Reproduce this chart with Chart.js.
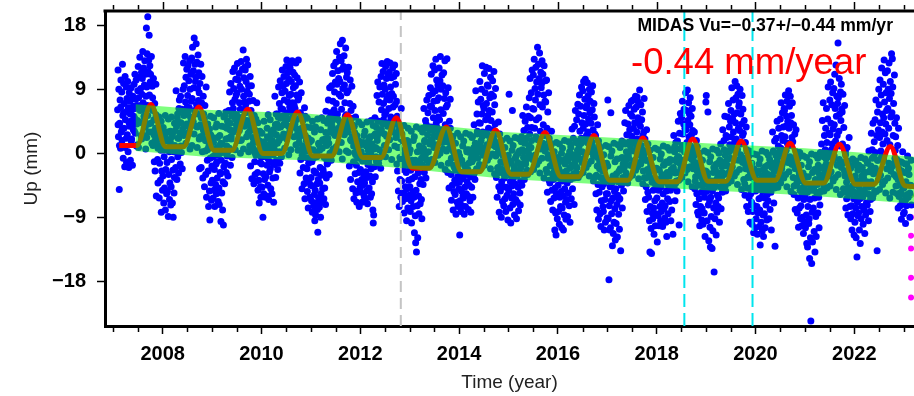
<!DOCTYPE html>
<html>
<head>
<meta charset="utf-8">
<script src="https://cdn.jsdelivr.net/npm/chart.js@4.4.0/dist/chart.umd.min.js"></script>
<style>
  body { margin: 0; background: #fff; }
</style>
</head>
<body>
<canvas id="upChart" width="914" height="396"></canvas>
<script>
// daily Up residuals, one string per month (Jan..Dec), values in mm
// first the spread of each season, then the points lying in the trend band
var up2007 = ["",
  "6.2 11.8 2.4 9.1 -5.0 4.3 7.6 0.8 10.4 3.1",
  "8.7 1.9 12.6 5.4 -0.6 9.9 3.6 7.1 -1.8 10.9 4.8",
  "5.9 9.4 -1.2 7.8 2.7 10.2 0.3 6.5 -1.9 8.6 3.9",
  "7.4 -0.9 4.6 9.3 2.1 6.2 -1.6 8.1 3.4 5.3",
  "9.8 5.1 11.2 2.9 7.7 10.4 4.2 6.8 1.3 8.9",
  "12.3 7.9 4.5 10.8 13.6 6.1 9.2 2.6 11.5 8.4",
  "10.6 14.4 7.2 12.1 5.3 9.7 13.1 3.8 11.2 8.1",
  "17.7 9.4 14.1 6.8 19.3 11.6 4.2 13.2 16.7 8.3 12.4 10.1",
  "11.2 6.4 13.7 3.1 9.5 7.9 1.2 10.6 4.8 -1.1",
  "7.1 -2.4 3.6 9.8 -5.9 1.4 5.2 -0.8 -4.1 2.5",
  "2.1 -6.2 -1.3 4.6 -3.7 0.5 -8.2 -2.4 3.2 -5.1"];
var up2008 = [
  "-3.1 1.8 -6.9 -0.4 -4.8 2.6 -7.9 -2.2 0.6 -5.6",
  "-1.2 -5.3 3.1 -8.8 -2.9 0.9 -6.4 -4.1 1.7 -7.2",
  "-4.6 -0.8 2.4 -6.9 -2.3 -8.9 0.3 -5.5 -3.3 1.2",
  "3.3 -1.9 8.9 0.6 -3.6 5.1 -0.4 2.2 -2.7 6.4",
  "7.6 2.9 -1.4 8.1 4.4 0.2 6.2 -2.1 3.5 9.1",
  "12.8 5.4 9.6 2.8 13.7 7.3 10.8 4.1 11.9 6.6",
  "8.2 12.4 3.9 10.3 6.5 13.1 9.1 5.2 11.2 7.4",
  "13.5 7.8 15.0 4.6 11.7 9.3 16.3 6.1 12.6 10.2",
  "10.8 15.5 6.9 12.9 3.8 9.2 13.9 7.5 11.4 8.6 -2.1",
  "9.9 4.1 12.6 -1.9 7.2 10.9 2.5 -3.4 8.1 5.6",
  "3.1 -4.6 6.8 0.4 -2.9 9.4 -6.1 1.8 -0.9 4.2",
  "-2.4 -7.4 1.1 -5.2 -9.3 -0.6 2.7 -4.1 -6.5 -1.7"];
var up2009 = [
  "-3.7 -0.4 -6.2 1.6 -5.1 -2.2 -7.4 0.7 -4.3 -1.4",
  "-5.6 -1.1 -3.4 2.3 -6.7 -0.2 -4.8 -7.1 1.2 -2.6",
  "-2.8 -9.5 -0.9 -5.5 1.4 -7.9 -3.9 -10.0 -1.8 0.4",
  "-4.2 3.8 -1.3 5.9 -2.6 1.1 -0.3 4.6 -3.1 2.2",
  "6.1 0.8 8.7 3.4 -1.6 9.9 2.1 5.3 -0.5 7.2",
  "11.6 6.4 9.2 3.3 12.1 7.7 4.9 10.5 8.3 5.5",
  "8.6 12.7 5.1 10.4 3.6 11.3 7.2 9.5 6.3 1.9",
  "13.0 9.1 6.2 11.9 4.4 14.6 8.1 10.7 7.3 12.2",
  "11.8 6.9 10.2 13.3 4.7 8.8 12.5 2.9 9.6 7.4",
  "8.4 3.2 10.9 -1.7 6.1 9.6 -3.5 4.8 0.9 7.5",
  "1.6 -4.2 5.4 -1.1 -2.9 3.3 -0.2 -3.8 7.2 2.3",
  "-2.6 -5.1 0.5 -3.7 -6.9 1.8 -1.2 -4.6 -6.1 -0.4"];
var up2010 = [
  "-1.4 -4.7 0.9 -8.9 -2.8 -5.6 1.7 -3.6 -0.3 -6.1",
  "-3.2 0.2 -5.9 -1.6 2.4 -4.4 -0.7 -6.4 1.3 -2.5",
  "0.6 -2.1 -4.9 3.1 -1.2 -5.6 1.9 -3.4 -0.1 -6.8",
  "2.8 -1.5 8.1 0.4 -3.3 5.6 -0.9 4.2 1.5 -2.2",
  "5.2 9.4 1.9 7.1 -1.3 10.3 3.8 6.4 -0.4 8.6",
  "11.8 6.3 9.5 4.1 10.9 7.6 5.4 8.8 2.7 12.3",
  "9.9 13.2 5.8 11.4 7.3 3.9 10.5 8.2 6.6 12.1",
  "12.7 8.4 10.2 5.9 13.1 7.2 11.5 9.3 4.3 6.8",
  "11.1 6.4 9.6 12.8 4.8 8.3 10.7 2.8 7.6 13.2",
  "7.9 2.3 10.1 -2.7 5.8 -0.8 8.6 3.6 -4.9 1.1",
  "4.7 -1.9 0.9 -4.2 6.5 -6.3 2.6 -0.5 -3.4 3.8",
  "-2.1 -5.3 0.4 -7.6 -1.3 -3.9 1.6 -6.1 -0.5 -4.4"];
var up2011 = [
  "-3.3 -6.6 -1.1 -8.2 -4.5 0.6 -7.3 -2.4 -5.7 -9.4",
  "-5.1 -8.6 -2.7 -6.9 -0.4 -4.2 -7.8 -11.0 -3.6 -6.2 1.3",
  "-7.5 -4.1 -1.9 -8.9 -5.6 -3.0 -6.8 0.8 -4.9 -2.2",
  "-2.6 -6.3 -0.5 -4.8 2.1 -7.1 6.0 -3.4 1.2 -1.4",
  "4.3 -1.2 7.6 1.5 -2.9 9.3 3.1 5.8 0.2 -0.9",
  "9.6 4.6 11.3 7.4 2.9 12.4 6.2 8.7 5.1 10.1",
  "12.9 7.1 14.4 9.8 5.6 11.7 3.6 10.6 8.4 13.6",
  "10.2 15.5 8.1 13.1 6.3 11.9 16.0 9.2 4.4 12.3",
  "13.8 9.7 7.2 12.1 14.9 5.5 10.8 8.6 11.4 3.1",
  "8.9 12.2 4.6 -1.7 7.1 10.4 -3.6 6.1 1.8 9.5",
  "2.4 -4.9 6.7 -1.1 -6.3 3.9 0.2 -2.8 5.2 -5.5",
  "-1.6 -6.8 0.7 -3.9 -5.2 1.9 -2.6 -7.4 -0.3 -4.7"];
var up2012 = [
  "-2.2 -5.4 0.3 -3.6 -6.8 -1.0 -4.4 1.6 -2.9 -6.0",
  "-4.1 -0.6 -6.4 -2.5 1.1 -5.2 -3.3 -7.0 -1.5 0.5",
  "-1.3 -4.8 2.2 -3.1 -6.1 0.1 -2.1 -5.6 1.4 -3.9",
  "-7.9 -9.7 -8.6 2.6 -1.8 5.1 -3.2 0.9 -0.4 3.7",
  "8.2 2.4 10.1 4.6 -1.3 7.3 0.6 9.4 3.3 -2.0",
  "10.9 6.2 12.7 8.4 4.2 11.6 7.1 9.7 2.8 5.5",
  "9.1 12.3 5.9 10.6 7.7 13.0 3.9 11.2 8.3 6.4",
  "11.5 7.6 12.8 9.4 5.2 10.7 8.5 3.6 12.1 6.6",
  "8.1 10.9 4.6 12.5 6.9 9.8 2.3 11.3 7.4 5.3",
  "-2.4 4.1 -5.2 0.9 -7.4 2.6 -3.6 -1.1 -6.1 6.4",
  "-3.8 -0.4 -6.7 1.8 -2.2 -5.5 -8.3 -1.5 0.6 -4.6",
  "-6.3 -2.6 -9.4 -4.9 -0.8 -7.6 1.3 -3.7 -5.8 -1.9"];
var up2013 = [
  "-4.6 -8.1 -2.3 -6.6 -9.7 -3.5 -0.9 -5.4 -7.4 -1.8",
  "-6.1 -11.1 -3.2 -8.7 -12.5 -5.1 -13.8 -2.0 -7.3 -11.8",
  "-2.7 -5.9 -8.4 -1.1 -4.2 -7.0 0.4 -3.6 -6.4 -9.1",
  "-1.5 3.6 -4.3 0.8 6.4 -2.6 1.9 -0.3 4.7 -3.4",
  "4.1 7.6 -0.9 2.7 5.8 0.3 8.2 -1.6 3.5 6.7",
  "9.3 3.8 11.2 6.6 1.9 8.5 12.4 5.1 7.4 2.6",
  "11.8 6.1 8.9 13.3 4.3 10.4 7.5 2.4 9.7 5.2",
  "7.9 12.1 4.8 10.3 13.7 6.2 9.1 3.4 11.1 1.6",
  "9.6 5.7 11.4 2.9 7.8 13.1 4.1 8.6 6.6 0.4",
  "13.4 6.9 -2.6 9.3 3.1 -4.8 4.6 -1.2 7.7 1.5",
  "-2.9 -6.5 0.8 -4.4 2.3 -7.9 -1.6 -5.3 -0.2 -3.7",
  "-5.7 -2.3 -8.5 -4.1 -0.5 -6.8 -3.2 -7.4 -1.4 -4.9"];
var up2014 = [
  "-4.0 -11.4 -6.6 -2.6 -8.1 -5.2 -0.9 -7.3 -3.5 -5.9",
  "-6.2 -3.1 -8.5 -4.7 -1.6 -7.4 -2.4 -5.6 0.6 -3.9",
  "-2.8 -5.9 -7.8 -1.3 -4.4 0.2 -6.6 -3.2 -8.2 -0.6",
  "-4.7 -1.1 2.4 -6.1 0.4 -2.9 4.1 -0.2 -3.6 1.5",
  "8.9 1.4 -2.1 5.6 3.2 -0.6 7.3 0.3 4.4 -1.5",
  "10.2 4.3 7.7 1.9 9.1 5.6 12.4 3.1 6.8 0.8",
  "6.4 11.3 2.7 8.6 4.8 12.2 7.1 1.3 9.7 5.4",
  "9.5 3.6 12.0 6.1 7.9 1.8 10.8 4.7 8.4 2.5",
  "5.9 10.3 3.4 8.1 11.6 1.2 6.9 4.2 9.2 -0.3",
  "-3.3 2.8 -6.1 0.1 -1.9 4.5 -4.6 -8.2 -2.6 1.4",
  "-5.2 -2.1 -8.9 -3.9 0.7 -6.7 -1.2 -4.6 -7.3 -2.9",
  "-3.4 -6.3 -0.8 -8.1 -4.7 -1.9 -5.8 -2.7 -9.3 -0.2"];
var up2015 = [
  "-5.1 8.4 -2.7 -7.6 -3.9 -9.7 -1.3 -6.2 -4.5 6.1",
  "-7.1 -3.4 -5.6 -1.8 -8.6 -4.2 -0.6 -6.4 -2.6 -9.1",
  "-3.1 -6.8 -1.2 -4.7 -8.0 -2.3 0.4 -5.5 -7.2 -3.8",
  "-1.9 2.4 -4.4 0.6 5.4 -2.8 -0.5 3.3 -3.6 1.5",
  "4.6 -1.4 2.1 6.6 0.4 -2.3 3.7 -0.6 5.3 1.2",
  "7.9 2.8 10.6 5.1 0.9 8.6 3.7 11.8 6.4 -0.4",
  "11.1 6.3 13.3 3.6 9.2 7.6 12.2 4.8 10.1 2.2",
  "15.0 8.4 12.6 5.1 10.6 14.2 6.9 3.2 11.5 9.3",
  "9.9 13.1 6.6 11.2 4.1 8.3 12.4 2.6 7.4 10.3",
  "7.3 -2.2 10.4 3.6 -5.4 5.9 -0.6 8.6 -3.7 1.7",
  "-4.1 0.9 -6.7 -1.6 3.2 -5.1 -2.8 -7.9 -0.4 -3.6",
  "-6.2 -2.4 -10.7 -4.8 -8.3 -11.4 -5.6 -3.3 -9.1 -0.5"];
var up2016 = [
  "-4.4 -8.1 -2.1 -9.9 -6.1 -3.2 -7.4 -0.9 -5.3 -10.4",
  "-7.6 -3.8 -5.9 -10.7 -2.6 -8.6 -4.9 -1.4 -6.8 -9.2",
  "-2.4 -6.4 -4.1 -8.8 -1.0 -5.5 -3.1 -7.3 0.3 -9.6",
  "-3.6 0.9 -6.3 -1.6 3.5 -4.9 -0.5 2.2 -2.8 -7.1",
  "3.9 -0.9 6.1 1.6 -2.6 4.8 -1.9 0.5 7.0 -3.3",
  "5.6 1.1 8.3 3.2 -0.8 6.7 2.2 9.4 4.4 0.3",
  "8.9 3.6 10.2 5.4 1.9 7.7 10.5 4.2 6.5 2.6",
  "6.8 10.0 3.1 8.2 4.9 1.4 9.1 5.8 7.4 2.3",
  "4.3 8.7 1.7 6.2 9.6 3.4 -0.3 7.1 5.2 2.8",
  "-3.2 2.6 -5.6 0.4 -7.9 -1.7 4.1 -4.3 -9.2 1.2",
  "-5.4 -1.1 -8.4 -3.3 -10.2 -6.6 -0.3 -4.6 -2.4 -7.4",
  "-8.1 -4.2 -10.7 -2.1 -6.4 -9.6 -3.6 -5.6 -1.3 -9.0"];
var up2017 = [
  "-5.6 7.6 -9.1 -3.7 -17.7 -7.3 -10.7 -4.6 -10.4 5.8 -6.6",
  "-8.4 -4.1 -12.9 -6.2 -11.2 -3.4 -9.6 -5.3 -7.7 -12.1",
  "-4.9 -9.8 -2.8 -7.1 -11.7 -5.8 -3.9 -8.5 -6.4 -10.6",
  "-6.3 -2.1 -13.6 -0.6 -4.4 1.8 -7.6 -3.3 -1.4 -5.2",
  "1.6 -3.9 4.4 -1.1 6.1 -2.7 0.3 2.7 -0.4 -4.1",
  "4.2 -0.5 6.8 1.7 3.4 -1.6 5.6 0.6 7.4 2.5",
  "5.3 2.2 7.6 3.6 0.4 6.3 4.4 -0.9 8.1 1.5",
  "6.6 3.1 8.0 2.1 5.1 7.3 0.8 4.2 9.0 -1.2",
  "3.9 6.9 1.2 4.8 -0.6 5.9 2.6 -2.4 3.1 7.8",
  "-3.3 2.1 -6.4 -0.9 -4.6 3.4 -8.1 -2.2 -5.4 0.6",
  "-6.1 -2.9 -9.4 -13.8 -7.4 -1.4 -10.5 -14.0 -3.6 -8.3",
  "-9.1 -5.1 -7.6 -11.3 -3.4 -6.6 -10.1 -4.4 -8.4 -2.2"];
var up2018 = [
  "-6.2 -12.4 -3.6 -8.7 -5.1 -10.1 -2.3 -7.4 -4.3 -9.4",
  "-4.6 -8.1 -2.9 -6.9 -10.2 -5.6 -1.6 -7.7 -3.8 -9.0",
  "-7.3 -3.4 -9.6 -5.2 -11.6 -2.6 -6.3 -8.4 -4.4 -1.2",
  "-3.1 -6.7 -0.8 -5.1 -9.4 -2.2 -7.9 0.6 -4.3 -11.3",
  "-1.9 2.6 -4.6 0.3 -6.6 -2.7 1.6 -3.8 -0.7 -5.2",
  "1.8 -2.6 4.6 -0.4 -10.0 2.9 -1.3 5.7 0.7 -3.4",
  "5.1 1.2 7.4 2.8 -0.9 4.2 6.3 0.3 3.6 -1.8",
  "8.6 3.4 6.1 1.6 9.0 4.7 0.2 7.2 2.4 5.6",
  "4.1 7.9 1.1 5.3 2.7 -0.8 6.4 3.3 -2.1 0.4",
  "-1.4 3.1 -4.9 0.6 -3.2 -7.1 1.9 -5.6 -2.4 -8.2",
  "-4.4 -8.6 -1.9 -6.3 -10.1 -3.1 -7.4 -0.8 -5.4 -9.3",
  "-7.7 -3.6 -9.9 -5.1 -2.4 -8.3 -6.1 -11.6 -4.2 7.3"];
var up2019 = [
  "8.2 -5.3 -9.4 -3.1 5.9 -7.2 -12.2 -4.4 -6.6 -10.3",
  "-13.1 -6.1 -8.8 -3.8 -13.3 -5.2 -10.8 -2.6 -7.6 -16.6",
  "-4.7 -9.1 -2.2 -6.9 -11.4 -3.6 -8.2 -5.8 -1.3 -7.4",
  "-6.2 -2.7 -9.6 -0.9 -4.6 1.4 -7.7 -3.4 -1.8 -5.4",
  "3.4 -1.2 -4.1 1.9 -2.9 5.3 -0.2 -5.2 2.6 -1.7",
  "2.3 -1.6 5.2 0.4 7.1 -2.6 3.8 1.3 -0.6 4.6",
  "6.1 2.4 9.3 0.8 4.9 7.6 3.1 -0.9 5.6 1.7",
  "10.2 4.4 7.9 2.1 9.6 5.8 0.6 8.4 3.6 6.7",
  "7.2 3.3 9.1 1.4 5.6 -0.4 4.2 8.2 2.6 6.3",
  "2.9 -3.6 4.7 -0.7 -5.8 1.6 -2.1 3.8 -7.4 0.3",
  "-4.8 -1.1 -8.1 -3.2 -6.2 0.4 -9.6 -2.4 -5.6 -7.2",
  "-6.8 -9.9 -3.4 -8.1 -5.2 -11.1 -2.1 -7.3 -4.4 -10.4"];
var up2020 = [
  "-5.2 -9.1 -3.6 -7.4 -11.3 -4.6 -8.3 -2.4 -6.3 -10.2",
  "-7.9 -12.8 -4.2 -9.6 -6.1 -3.1 -10.8 -5.3 -8.6 -11.6",
  "-3.8 -8.4 -6.2 -10.4 -2.6 -7.2 -4.9 -9.3 -5.7 -1.6",
  "-6.6 -2.9 -9.1 -4.3 -0.8 -7.8 -3.6 -5.4 -10.7 -1.9",
  "-1.3 3.1 -4.2 0.4 -6.9 -2.4 1.8 -13.0 -3.4 -0.2",
  "2.2 -2.1 4.6 -0.6 -4.7 1.1 3.6 -3.3 0.3 -1.4",
  "4.9 0.8 7.2 2.6 -1.6 5.8 1.9 3.8 -0.4 6.4",
  "6.1 2.4 8.3 3.9 0.5 5.3 7.4 1.5 4.6 -0.8",
  "8.9 3.6 6.7 1.2 8.1 4.4 -1.3 5.4 2.3 7.2",
  "1.7 -3.3 4.1 -5.7 -0.6 2.8 -7.8 -2.1 3.4 -4.4",
  "-4.1 -8.3 -1.6 -6.2 -10.3 -3.2 -7.6 0.2 -5.1 -9.1",
  "-7.3 -3.8 -10.1 -5.6 -8.9 -2.7 -11.2 -6.4 -4.6 -9.6"];
var up2021 = [
  "-6.1 -10.4 -4.2 -8.6 -12.6 -5.3 -13.1 -7.4 -3.2 -9.8",
  "-9.1 -14.7 -6.4 -11.8 -23.5 -5.1 -15.4 -8.2 -12.4 -4.3",
  "-7.6 -4.7 -10.9 -6.2 -13.8 -3.6 -8.8 -11.6 -5.4 -2.4",
  "-4.3 -8.3 -1.6 -6.1 -10.4 -2.9 -7.2 0.2 -5.2 -3.7",
  "1.4 -3.6 4.7 -1.9 7.2 -0.4 -4.6 2.6 -2.6 0.6",
  "3.6 -0.7 6.4 1.6 -2.9 4.9 9.4 0.2 2.9 -1.6",
  "7.6 2.7 10.1 4.3 0.6 6.9 1.4 8.6 3.5 -0.9",
  "9.2 4.1 11.2 6.4 1.8 12.5 5.3 8.1 2.6 7.1",
  "15.6 7.9 3.2 10.6 5.6 1.1 8.7 4.7 9.8 6.3",
  "5.9 1.4 8.4 -1.2 3.7 -5.4 6.8 -3.1 0.3 -7.6",
  "-2.4 -6.3 0.9 -4.8 -8.6 -1.1 -5.7 2.3 -3.5 -7.4",
  "-5.6 -9.1 -3.4 -7.3 -10.7 -4.5 -8.4 -1.6 -6.3 -11.4"];
var up2022 = [
  "-5.4 -9.6 -3.1 -7.6 -11.8 -4.4 -14.5 -6.8 -8.7 -2.2",
  "-8.3 -4.6 -10.7 -6.3 -12.6 -3.7 -9.1 -5.6 -7.4 -1.9",
  "-6.1 -9.9 -3.3 -7.9 -5.1 -11.2 -2.6 -8.6 -4.2 -6.9",
  "-3.9 -7.2 -1.3 -5.6 -9.4 0.4 -4.6 -2.4 -8.1 -6.4",
  "-1.7 2.9 -4.4 0.6 -6.2 4.3 -2.8 -0.4 1.7 -5.2",
  "4.8 0.2 7.6 -2.4 2.6 -13.6 5.9 -0.9 3.4 9.1",
  "6.9 2.3 10.4 4.4 0.4 8.3 12.1 3.1 5.6 1.4",
  "9.8 5.1 13.2 7.3 2.8 11.4 4.2 8.6 6.1 1.9",
  "11.7 6.4 9.1 3.6 12.8 7.8 1.3 10.2 5.2 8.5",
  "14.1 5.8 13.4 9.4 2.6 7.1 -1.3 11.1 4.3 0.5",
  "2.4 -3.2 5.1 -0.8 -5.6 1.2 -7.6 3.6 -2.1 -4.4",
  "-3.6 -7.3 -1.1 -5.4 -9.2 -2.4 -6.6 0.3 -4.6 -8.4"];
var up2023 = [
  "-4.8 -8.2 -2.6 -6.6 -9.8 -3.9 -7.3 -1.4 -5.7 -0.3",
  "-6.1 -2.9 -8.9 -4.4 -7.2"];

// points sitting inside the trend band
var mid2007 = ["",
  "4.1 1.2 6.6", "3.4 5.8 0.9", "2.2 6.1 4.4",
  "5.6 1.8 4.1 6.7", "3.2 6.4 1.1 4.7", "0.9 4.4 6.8 2.1",
  "6.2 2.6 4.9 0.7", "2.3 5.4 3.1 6.6", "4.3 1.5 6.1 2.7",
  "1.9 5.5 3.3 0.8", "5.2 2.2 4.6 1.1"];
var mid2008 = [
  "3.7 0.6 5.4 2.1", "1.8 4.9 0.3 3.2", "5.2 2.7 0.9 4.3",
  "0.4 3.9 5.6 2.2", "4.4 1.1 6.3 2.9", "2.6 5.5 1.5 4.2",
  "5.9 3.1 0.7 4.6", "1.2 4.5 2.8 6.0", "3.9 0.9 5.6 2.1",
  "2.4 5.1 0.3 3.4", "4.9 1.9 3.8 0.6", "0.8 3.5 5.3 2.0"];
var mid2009 = [
  "2.3 5.1 -0.2 3.8", "4.2 0.9 5.7 2.6", "1.5 3.9 0.2 5.2",
  "5.4 2.1 3.6 0.4", "0.8 4.3 2.5 5.8", "3.1 5.6 0.6 4.1",
  "4.7 1.9 3.3 0.1", "2.0 5.2 0.7 3.9", "5.8 2.4 4.2 0.3",
  "1.1 3.7 5.4 2.3", "3.6 0.2 4.9 1.8", "4.4 1.6 3.2 -0.3"];
var mid2010 = [
  "2.9 -0.4 4.6 1.3", "0.9 3.6 5.5 2.2", "4.8 1.9 0.1 3.4",
  "1.2 4.1 2.7 5.6", "3.7 0.3 5.0 2.3", "5.3 2.8 0.8 4.6",
  "2.1 4.9 -0.1 3.2", "0.6 3.7 5.2 2.4", "4.2 1.3 3.5 0.5",
  "1.6 5.1 2.6 -0.2", "3.3 0.4 5.3 1.9", "5.0 2.2 0.7 3.7"];
var mid2011 = [
  "1.9 4.6 -0.6 3.1", "3.8 0.2 4.9 1.5", "0.5 3.4 5.1 2.0",
  "4.7 1.7 3.0 -0.9", "2.2 5.0 0.1 3.6", "3.9 0.7 5.4 2.6",
  "1.0 3.3 4.8 0.3", "4.4 1.6 -0.7 3.5", "2.7 5.3 0.4 4.0",
  "0.2 3.8 2.0 5.0", "4.1 1.1 3.0 -0.1", "2.6 -0.6 4.5 1.7"];
var mid2012 = [
  "1.3 4.1 -0.9 2.6", "3.2 -0.3 4.5 1.7", "-0.7 2.4 4.7 0.9",
  "4.0 0.7 2.8 -1.0", "1.9 4.6 -0.6 3.0", "3.4 0.1 4.8 1.2",
  "-0.4 2.5 4.3 0.6", "2.0 4.7 -0.8 3.1", "4.4 1.1 2.9 -1.4",
  "0.9 3.3 -0.5 2.1", "2.8 -0.2 4.0 0.4", "-0.9 1.9 3.6 0.1"];
var mid2013 = [
  "0.6 3.2 -1.7 1.9", "2.4 -0.9 3.8 0.3", "-1.4 1.1 3.5 -0.6",
  "3.1 -0.1 1.7 -1.9", "0.2 3.6 -1.5 1.4", "2.0 -0.8 3.3 0.9",
  "-1.2 1.3 3.7 -0.2", "3.0 0.1 -1.6 2.1", "0.7 2.8 -2.2 1.7",
  "2.3 -1.3 0.8 3.6", "-0.6 2.5 0.3 -1.9", "1.5 -1.6 2.9 0.2"];
var mid2014 = [
  "-0.3 2.4 -2.6 1.1", "1.8 -1.7 2.9 0.3", "-2.2 0.6 2.7 -1.0",
  "2.3 -0.8 0.9 -2.5", "-0.5 2.8 -2.3 0.7", "1.4 -1.9 2.5 -0.2",
  "-1.6 0.4 3.0 -0.9", "2.6 -0.4 -2.1 1.3", "0.0 2.1 -2.8 1.0",
  "1.6 -2.0 0.5 2.8", "-1.1 1.9 -0.2 -2.6", "0.9 -2.3 2.2 -0.6"];
var mid2015 = [
  "-0.9 1.8 -3.1 0.5", "1.2 -2.3 2.3 -0.3", "-2.8 0.1 2.1 -1.6",
  "1.7 -1.4 0.3 -3.0", "-1.1 2.2 -2.9 0.1", "0.8 -2.5 1.9 -0.8",
  "-2.2 -0.2 2.4 -1.5", "2.0 -1.0 -2.7 0.7", "-0.6 1.5 -3.4 0.4",
  "1.0 -2.6 -0.1 2.2", "-1.7 1.3 -0.8 -3.2", "0.3 -2.9 1.6 -1.2"];
var mid2016 = [
  "-1.3 1.4 -3.5 0.1", "0.8 -2.7 1.9 -0.7", "-3.2 -0.3 1.7 -2.0",
  "1.3 -1.8 -0.1 -3.4", "-1.5 1.8 -3.3 -0.3", "0.4 -2.9 1.5 -1.2",
  "-2.6 -0.6 2.0 -1.9", "1.6 -1.4 -3.1 0.3", "-1.0 1.1 -3.8 0.0",
  "0.6 -3.0 -0.5 1.8", "-2.1 0.9 -1.2 -3.6", "-0.1 -3.3 1.2 -1.6"];
var mid2017 = [
  "-1.7 1.0 -3.9 -0.3", "0.4 -3.1 1.5 -1.1", "-3.6 -0.7 1.3 -2.4",
  "0.9 -2.2 -0.5 -3.8", "-1.9 1.4 -3.7 -0.7", "0.0 -3.3 1.1 -1.6",
  "-3.0 -1.0 1.6 -2.3", "1.2 -1.8 -3.5 -0.1", "-1.4 0.7 -4.2 -0.4",
  "0.2 -3.4 -0.9 1.4", "-2.5 0.5 -1.6 -4.0", "-0.5 -3.7 0.8 -2.0"];
var mid2018 = [
  "-2.1 0.6 -4.3 -0.7", "0.0 -3.5 1.1 -1.5", "-4.0 -1.1 0.9 -2.8",
  "0.5 -2.6 -0.9 -4.2", "-2.3 1.0 -4.1 -1.1", "-0.4 -3.7 0.7 -2.0",
  "-3.4 -1.4 1.2 -2.7", "0.8 -2.2 -3.9 -0.5", "-1.8 0.3 -4.6 -0.8",
  "-0.2 -3.8 -1.3 1.0", "-2.9 0.1 -2.0 -4.4", "-0.9 -4.1 0.4 -2.4"];
var mid2019 = [
  "-2.5 0.2 -4.7 -1.1", "-0.4 -3.9 0.7 -1.9", "-4.4 -1.5 0.5 -3.2",
  "0.1 -3.0 -1.3 -4.6", "-2.7 0.6 -4.5 -1.5", "-0.8 -4.1 0.3 -2.4",
  "-3.8 -1.8 0.8 -3.1", "0.4 -2.6 -4.3 -0.9", "-2.2 -0.1 -5.0 -1.2",
  "-0.6 -4.2 -1.7 0.6", "-3.3 -0.3 -2.4 -4.8", "-1.3 -4.5 0.0 -2.8"];
var mid2020 = [
  "-2.8 -0.1 -5.0 -1.4", "-0.7 -4.2 0.4 -2.2", "-4.7 -1.8 0.2 -3.5",
  "-0.2 -3.3 -1.6 -4.9", "-3.0 0.3 -4.8 -1.8", "-1.1 -4.4 0.0 -2.7",
  "-4.1 -2.1 0.5 -3.4", "0.1 -2.9 -4.6 -1.2", "-2.5 -0.4 -5.3 -1.5",
  "-0.9 -4.5 -2.0 0.3", "-3.6 -0.6 -2.7 -5.1", "-1.6 -4.8 -0.3 -3.1"];
var mid2021 = [
  "-3.2 -0.5 -5.4 -1.8", "-1.1 -4.6 0.0 -2.6", "-5.1 -2.2 -0.2 -3.9",
  "-0.6 -3.7 -2.0 -5.3", "-3.4 -0.1 -5.2 -2.2", "-1.5 -4.8 -0.4 -3.1",
  "-4.5 -2.5 0.1 -3.8", "-0.3 -3.3 -5.0 -1.6", "-2.9 -0.8 -5.7 -1.9",
  "-1.3 -4.9 -2.4 -0.1", "-4.0 -1.0 -3.1 -5.5", "-2.0 -5.2 -0.7 -3.5"];
var mid2022 = [
  "-3.7 -1.0 -5.9 -2.3", "-1.6 -5.1 -0.5 -3.1", "-5.6 -2.7 -0.7 -4.4",
  "-1.1 -4.2 -2.5 -5.8", "-3.9 -0.6 -5.7 -2.7", "-2.0 -5.3 -0.9 -3.6",
  "-5.0 -3.0 -0.4 -4.3", "-0.8 -3.8 -5.5 -2.1", "-3.4 -1.3 -6.2 -2.4",
  "-1.8 -5.4 -2.9 -0.6", "-4.5 -1.5 -3.6 -6.0", "-2.5 -5.7 -1.2 -4.0"];
var mid2023 = ["-4.1 -1.4 -6.3 -2.7", "-2.0 -5.5 -0.9"];

var obsYears = [2007, 2008, 2009, 2010, 2011, 2012, 2013, 2014, 2015, 2016, 2017, 2018, 2019, 2020, 2021, 2022, 2023];
var obsByYear = [up2007, up2008, up2009, up2010, up2011, up2012, up2013, up2014, up2015, up2016, up2017, up2018, up2019, up2020, up2021, up2022, up2023];
var midByYear = [mid2007, mid2008, mid2009, mid2010, mid2011, mid2012, mid2013, mid2014, mid2015, mid2016, mid2017, mid2018, mid2019, mid2020, mid2021, mid2022, mid2023];

// last epochs after the offset (magenta) and the grey one
var offsetYear = 2023.15;
var offsetUp = [-8.9, -11.5, -13.3, -17.4, -20.2];
var greyUp = [-5.8];

// seasonal + trend model, read at turning points
var modelYears = [2007.12, 2007.48, 2007.76, 2008.06, 2008.42, 2008.73, 2009.04, 2009.40, 2009.72, 2010.03, 2010.41, 2010.73,
  2011.04, 2011.42, 2011.74, 2012.05, 2012.42, 2012.73, 2013.05, 2013.40, 2013.74, 2014.05, 2014.42, 2014.74,
  2015.05, 2015.40, 2015.74, 2016.06, 2016.42, 2016.73, 2017.05, 2017.42, 2017.72, 2018.05, 2018.42, 2018.73,
  2019.04, 2019.40, 2019.71, 2020.03, 2020.40, 2020.70, 2021.02, 2021.38, 2021.70, 2022.02, 2022.40, 2022.73, 2023.03, 2023.21];
var modelUp = [1.2, 1.2, 6.95, 1.0, 1.0, 6.6, 0.5, 0.5, 6.3, 0.05, 0.05, 5.9,
  -0.3, -0.3, 5.5, -0.5, -0.5, 5.1, -2.0, -2.0, 3.8, -2.5, -2.5, 3.35,
  -2.85, -2.85, 3.0, -3.2, -3.2, 2.6, -3.7, -3.7, 2.25, -3.9, -3.9, 2.1,
  -3.85, -3.85, 1.8, -3.7, -3.7, 1.5, -4.1, -4.1, 1.35, -4.25, -4.25, 1.05, -4.5, -4.6];

// uncertainty band of the trend
var bandYears = [2007.45, 2008.86, 2010.9, 2012.88, 2014.9, 2016.93, 2019.0, 2021.0, 2023.21];
var bandTop = [7.0, 6.2, 5.7, 4.5, 3.1, 2.35, 1.5, 0.8, -0.4];
var bandBottom = [0.4, -0.4, -0.9, -2.0, -3.5, -4.3, -5.1, -5.8, -7.0];

// equipment / event dates
var antennaYears = [2012.82];
var eqYears = [2018.56, 2019.94];

var xTickYears = [2008, 2010, 2012, 2014, 2016, 2018, 2020, 2022];
var yTicks = [18, 9, 0, -9, -18];

var xMin = 2006.832, xMax = 2023.209, yMin = -24.2, yMax = 20.1;

var obs = [];
function addMonths(list) {
  list.forEach(function (months, k) {
    months.forEach(function (s, m) {
      if (!s) return;
      var vals = s.trim().split(/\s+/).map(Number);
      vals.forEach(function (v, i) {
        obs.push({ x: obsYears[k] + (m + (i + 0.5) / vals.length) / 12, y: v });
      });
    });
  });
}
addMonths(obsByYear);
addMonths(midByYear);

function pairs(xs, ys) {
  return xs.map(function (x, i) { return { x: x, y: ys[i] }; });
}
function vline(t) {
  return [{ x: t, y: yMin }, { x: t, y: yMax }];
}

Chart.defaults.font.family = "'Liberation Sans', Arial, Helvetica, sans-serif";
Chart.defaults.color = '#000';

var extras = {
  id: 'extras',
  afterDraw: function (chart) {
    var c = chart.ctx, a = chart.chartArea, xs = chart.scales.x;
    c.save();
    c.strokeStyle = '#000';
    // top frame line
    c.lineWidth = 3;
    c.beginPath();
    c.moveTo(a.left - 1.5, a.top);
    c.lineTo(a.right, a.top);
    c.stroke();
    // half-year ticks, top and bottom
    c.lineWidth = 1.5;
    for (var t = 2007; t <= 2023; t += 0.5) {
      var px = Math.round(xs.getPixelForValue(t)) + 0.5;
      var major = xTickYears.indexOf(t) >= 0;
      c.beginPath();
      c.moveTo(px, a.top - 1.5);
      c.lineTo(px, a.top - (major ? 9 : 6));
      if (!major) {
        c.moveTo(px, a.bottom + 1.5);
        c.lineTo(px, a.bottom + 6);
      }
      c.stroke();
    }
    // annotations
    c.fillStyle = '#000';
    c.font = "bold 17.6px 'Liberation Sans', Arial, sans-serif";
    c.textAlign = 'right';
    c.textBaseline = 'alphabetic';
    c.fillText('MIDAS Vu=\u22120.37+/\u22120.44 mm/yr', 893, 31);
    c.fillStyle = '#ff0000';
    c.font = "36.5px 'Liberation Sans', Arial, sans-serif";
    c.textAlign = 'left';
    c.fillText('-0.44 mm/year', 631, 74);
    c.restore();
  }
};

new Chart(document.getElementById('upChart'), {
  type: 'scatter',
  data: {
    datasets: [
      {
        type: 'line', data: pairs(bandYears, bandTop), fill: '+1',
        backgroundColor: 'rgba(0,255,0,0.5)', borderWidth: 0, pointRadius: 0, tension: 0, order: 0
      },
      {
        type: 'line', data: pairs(bandYears, bandBottom), fill: false,
        borderWidth: 0, pointRadius: 0, tension: 0, order: 0
      },
      {
        type: 'line', data: pairs(modelYears, modelUp), borderColor: '#ff0000', borderWidth: 5,
        pointRadius: 0, cubicInterpolationMode: 'monotone', fill: false, order: 1
      },
      {
        type: 'line', data: vline(antennaYears[0]), borderColor: '#c4c4c4', borderWidth: 2,
        borderDash: [11, 6], pointRadius: 0, fill: false, order: 2
      },
      {
        type: 'line', data: vline(eqYears[0]), borderColor: '#00e5ee', borderWidth: 2,
        borderDash: [13, 6], pointRadius: 0, fill: false, order: 2
      },
      {
        type: 'line', data: vline(eqYears[1]), borderColor: '#00e5ee', borderWidth: 2,
        borderDash: [13, 6], pointRadius: 0, fill: false, order: 2
      },
      {
        data: obs, backgroundColor: '#0000ff', borderWidth: 0, pointRadius: 3.5, order: 3
      },
      {
        data: offsetUp.map(function (v) { return { x: offsetYear, y: v }; }),
        backgroundColor: '#ff00ff', borderWidth: 0, pointRadius: 3, order: 3
      },
      {
        data: greyUp.map(function (v) { return { x: offsetYear, y: v }; }),
        backgroundColor: '#808080', borderWidth: 0, pointRadius: 3, order: 3
      }
    ]
  },
  options: {
    responsive: false,
    animation: false,
    events: [],
    layout: { autoPadding: false, padding: { top: 11, right: 0, bottom: 0, left: 0 } },
    plugins: { legend: { display: false }, tooltip: { enabled: false } },
    scales: {
      x: {
        type: 'linear', min: xMin, max: xMax,
        afterFit: function (s) { s.height = 70; s.paddingLeft = 0; s.paddingRight = 0; },
        afterBuildTicks: function (s) { s.ticks = xTickYears.map(function (v) { return { value: v }; }); },
        grid: { drawOnChartArea: false, drawTicks: true, tickLength: 8, tickWidth: 1.5, tickColor: '#000' },
        border: { display: true, color: '#000', width: 3 },
        ticks: {
          autoSkip: false, maxRotation: 0, padding: 8, color: '#000',
          font: { size: 20, weight: 'bold' },
          callback: function (v) { return String(v); }
        },
        title: { display: true, text: 'Time (year)', color: '#222', font: { size: 19 }, padding: { top: 0, bottom: 2 } }
      },
      y: {
        type: 'linear', min: yMin, max: yMax,
        afterFit: function (s) { s.width = 105; s.paddingTop = 0; s.paddingBottom = 0; },
        afterBuildTicks: function (s) { s.ticks = yTicks.map(function (v) { return { value: v }; }); },
        grid: { drawOnChartArea: false, drawTicks: true, tickLength: 8, tickWidth: 1.5, tickColor: '#000' },
        border: { display: true, color: '#000', width: 3 },
        ticks: {
          padding: 11, color: '#000',
          font: { size: 20, weight: 'bold' },
          callback: function (v) { return v < 0 ? '\u2212' + Math.abs(v) : String(v); }
        },
        title: { display: true, text: 'Up (mm)', color: '#222', font: { size: 19 }, padding: { top: 20, bottom: 0 } }
      }
    }
  },
  plugins: [extras]
});
</script>
</body>
</html>
